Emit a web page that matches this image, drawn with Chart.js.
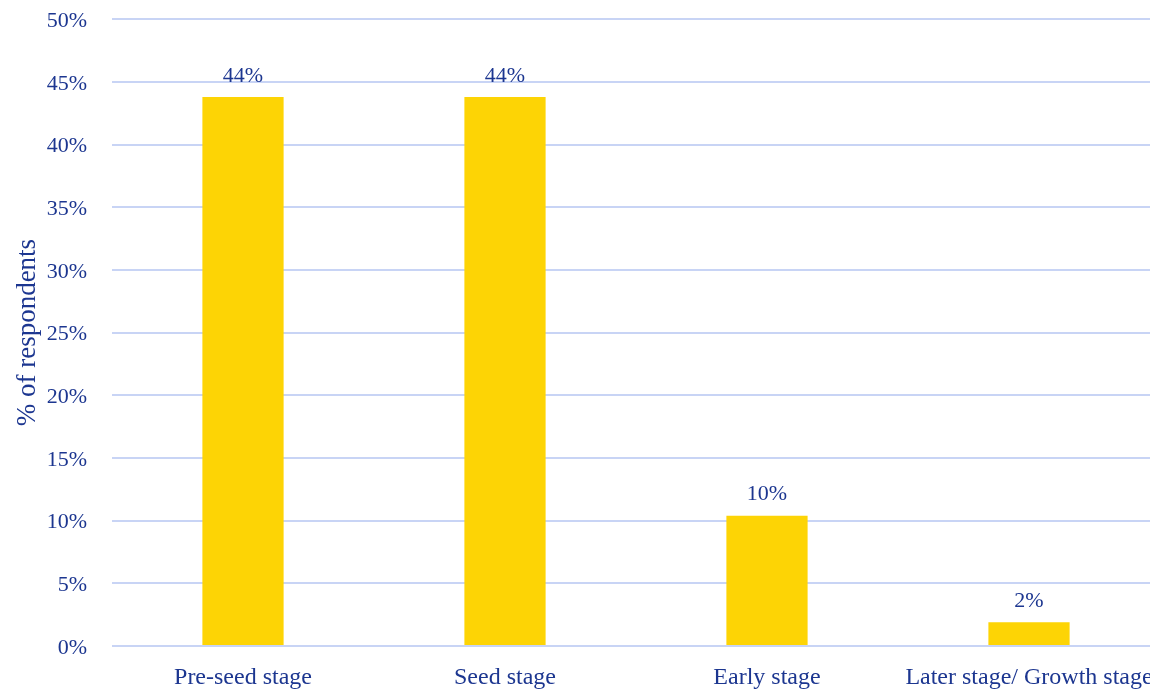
<!DOCTYPE html>
<html>
<head>
<meta charset="utf-8">
<script src="https://cdn.jsdelivr.net/npm/chart.js@4/dist/chart.umd.min.js"></script>
<style>
  html, body { margin: 0; padding: 0; background: #fff; overflow: hidden; }
  #chart { display: block; }
</style>
</head>
<body>
<canvas id="chart" width="1175" height="689"></canvas>
<script>
const categories = ['Pre-seed stage', 'Seed stage', 'Early stage', 'Later stage/ Growth stage'];
const shares = [43.8, 43.8, 10.4, 1.9];
const shareLabels = ['44%', '44%', '10%', '2%'];

const textColor = '#1c3690';
const fontFamily = '"Liberation Serif", "Times New Roman", serif';

// draw the value above each bar
const barLabels = {
  id: 'barLabels',
  afterDatasetsDraw(chart) {
    const ctx = chart.ctx;
    const meta = chart.getDatasetMeta(0);
    ctx.save();
    ctx.fillStyle = textColor;
    ctx.font = '22px ' + fontFamily;
    ctx.textAlign = 'center';
    ctx.textBaseline = 'bottom';
    meta.data.forEach((bar, i) => {
      ctx.fillText(shareLabels[i], bar.x, bar.y - 10);
    });
    ctx.restore();
  }
};

new Chart(document.getElementById('chart').getContext('2d'), {
  type: 'bar',
  data: {
    labels: categories,
    datasets: [{
      data: shares,
      backgroundColor: '#fdd405',
      borderWidth: 0,
      barPercentage: 0.31,
      categoryPercentage: 1
    }]
  },
  options: {
    responsive: false,
    animation: false,
    layout: { padding: { top: 0, right: 15, left: 0, bottom: 0 } },
    plugins: {
      legend: { display: false },
      tooltip: { enabled: false }
    },
    scales: {
      x: {
        afterFit(scale) { scale.height = 43; },
        grid: { display: false },
        border: { display: false },
        ticks: {
          color: textColor,
          font: { family: fontFamily, size: 24 },
          padding: 9,
          maxRotation: 0,
          autoSkip: false
        }
      },
      y: {
        min: 0,
        max: 50,
        afterFit(scale) { scale.width = 112; },
        grid: { color: '#c8d4f5', lineWidth: 2, drawTicks: true, tickLength: 19, tickColor: 'rgba(0,0,0,0)' },
        border: { display: false },
        ticks: {
          stepSize: 5,
          color: textColor,
          font: { family: fontFamily, size: 22 },
          padding: 6,
          labelOffset: 2,
          callback: v => v + '%'
        },
        title: {
          display: true,
          text: '% of respondents',
          color: textColor,
          font: { family: fontFamily, size: 27 },
          padding: { top: 12, bottom: 4 }
        }
      }
    }
  },
  plugins: [barLabels]
});
</script>
</body>
</html>
